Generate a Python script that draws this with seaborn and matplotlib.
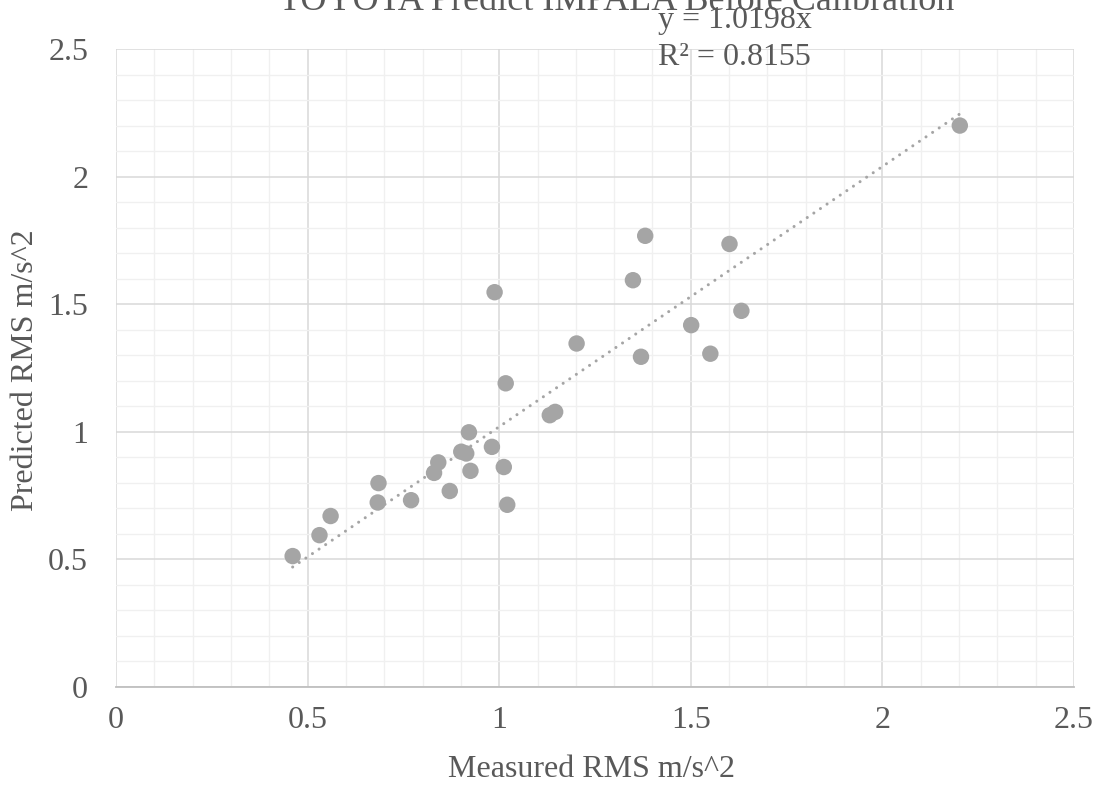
import matplotlib
matplotlib.use("Agg")
import matplotlib.pyplot as plt
import seaborn as sns
import numpy as np
import pandas as pd
from matplotlib.ticker import MultipleLocator

# Data
measured = [0.461, 0.531, 0.560, 0.685, 0.683, 0.770, 0.871, 0.830, 0.841, 0.921,
            0.901, 0.914, 0.925, 0.981, 1.012, 1.021, 1.017, 1.132, 1.146, 0.988,
            1.202, 1.349, 1.381, 1.370, 1.501, 1.551, 1.601, 1.632, 2.202]
predicted = [0.513, 0.595, 0.670, 0.799, 0.723, 0.732, 0.768, 0.839, 0.880, 0.998,
             0.922, 0.915, 0.847, 0.941, 0.862, 0.714, 1.190, 1.065, 1.078, 1.547,
             1.346, 1.594, 1.768, 1.294, 1.418, 1.306, 1.736, 1.474, 2.200]
slope = 1.0198
r2 = 0.8155
title = "TOYOTA Predict IMPALA Before Calibration"
xlabel = "Measured RMS m/s^2"
ylabel = "Predicted RMS m/s^2"
ticks = [0, 0.5, 1, 1.5, 2, 2.5]
tick_labels = ["0", "0.5", "1", "1.5", "2", "2.5"]

df = pd.DataFrame({"measured": measured, "predicted": predicted})
trend_x = [min(measured), max(measured)]
trend = pd.DataFrame({"x": trend_x, "y": [slope * v for v in trend_x]})

sns.set_theme(style="white")
plt.rcParams["font.family"] = ["Liberation Serif", "DejaVu Serif"]

TXT = "#595959"
GRAY = "#a5a5a5"

fig = plt.figure(figsize=(11.04, 7.87), dpi=100)
ax = fig.add_axes([116 / 1104, 1 - 687 / 787, (1074 - 116) / 1104, (687 - 49) / 787])

ax.set_xlim(0, 2.5)
ax.set_ylim(0, 2.5)
ax.xaxis.set_major_locator(MultipleLocator(0.5))
ax.yaxis.set_major_locator(MultipleLocator(0.5))
ax.xaxis.set_minor_locator(MultipleLocator(0.1))
ax.yaxis.set_minor_locator(MultipleLocator(0.1))
ax.grid(which="minor", color="#f0f0f0", linewidth=1.0, zorder=0)
ax.grid(which="major", color="#d9d9d9", linewidth=1.1, zorder=0)
ax.set_axisbelow(True)

sns.lineplot(data=trend, x="x", y="y", ax=ax, color=GRAY, linewidth=2.2,
             linestyle=(0, (0.01, 2.6)), dash_capstyle="round", zorder=2)
sns.scatterplot(data=df, x="measured", y="predicted", ax=ax, color=GRAY,
                s=140, edgecolor="none", linewidth=0, zorder=3)

ax.set_xticks(ticks)
ax.set_xticklabels(tick_labels)
ax.set_yticks(ticks)
ax.set_yticklabels(tick_labels)
ax.tick_params(axis="both", which="both", length=0, labelsize=23, labelcolor=TXT)
ax.tick_params(axis="x", pad=14)
ax.tick_params(axis="y", pad=20)

for side in ["top", "right", "left"]:
    ax.spines[side].set_visible(False)
ax.spines["bottom"].set_color("#bfbfbf")
ax.spines["bottom"].set_linewidth(1.3)

ax.set_xlabel(xlabel, fontsize=23, color=TXT)
ax.xaxis.set_label_coords((591.5 - 116) / 958, (687 - 777) / 638)
ax.xaxis.label.set_va("baseline")
ax.set_ylabel(ylabel, fontsize=23, color=TXT)
ax.yaxis.set_label_coords((26 - 116) / 958, (687 - 370) / 638)
ax.yaxis.label.set_va("center")

fig.text(617 / 1104, 1 - 10 / 787, title, ha="center", va="baseline",
         fontsize=26, color=TXT)

ax.text((658 - 116) / 958, (687 - 28) / 638, f"y = {slope:.4f}x",
        transform=ax.transAxes, ha="left", va="baseline", fontsize=23, color=TXT)
ax.text((658 - 116) / 958, (687 - 65) / 638, f"R² = {r2:.4f}",
        transform=ax.transAxes, ha="left", va="baseline", fontsize=23, color=TXT)

fig.savefig("out.png", dpi=100, facecolor="white")
